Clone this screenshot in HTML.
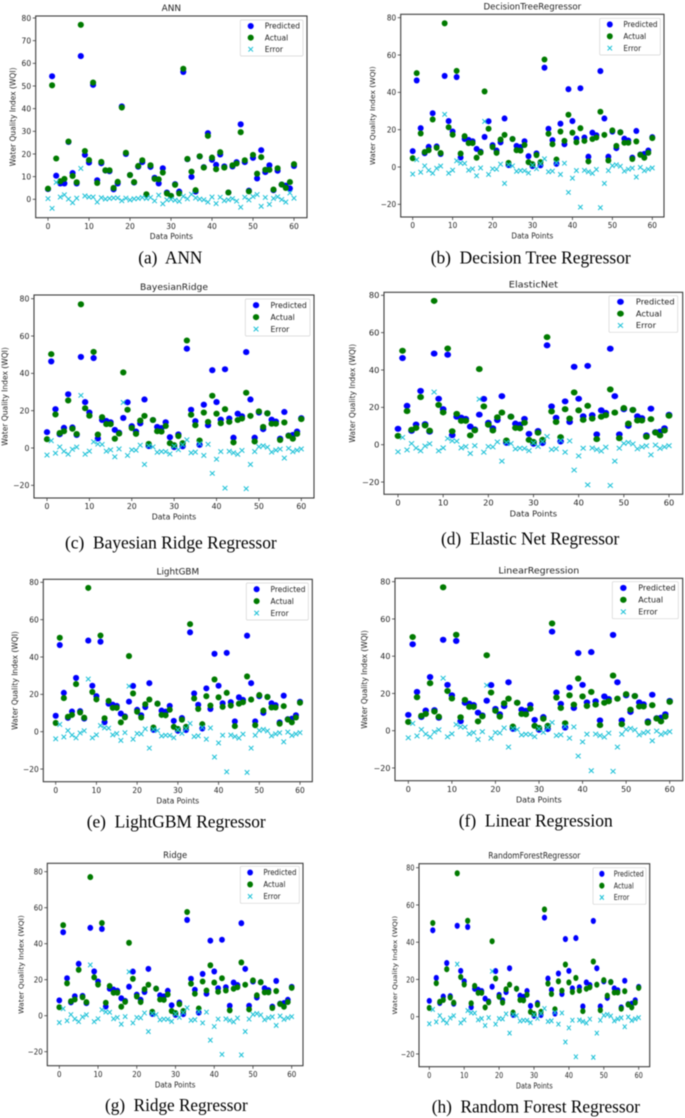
<!DOCTYPE html>
<html lang="en">
<head>
<meta charset="utf-8">
<title>Water Quality Index regressor comparison</title>
<style>
  html, body { margin: 0; padding: 0; background: #fff; }
  body { width: 685px; height: 1118px; overflow: hidden; }
  #figure { display: block; filter: blur(0.5px); }
  text { font-family: "DejaVu Sans", "Liberation Sans", sans-serif; fill: #1f1f1f; }
  .title { font-size: 8.9px; text-anchor: middle; }
  .xlabel, .ylabel { font-size: 7.55px; text-anchor: middle; }
  .legend-label { font-size: 7.5px; }
  .tick-label { font-size: 7.5px; }
  .caption { font-family: "Liberation Serif", serif; font-size: 18.2px; fill: #000; }
</style>
</head>
<body>
<svg id="figure" xmlns="http://www.w3.org/2000/svg" width="685" height="1118" viewBox="0 0 685 1118">
  <rect width="685" height="1118" fill="#fff"/>

  <g class="panel" id="ann">
    <text class="title">ANN</text>
    <text class="xlabel">Data Points</text>
    <text class="ylabel">Water Quality Index (WQI)</text>
    <text class="legend-label">Predicted</text>
    <text class="legend-label">Actual</text>
    <text class="legend-label">Error</text>
    <text class="caption">(a)&#160; ANN</text>
  </g>

  <g class="panel" id="decisionTree">
    <text class="title">DecisionTreeRegressor</text>
    <text class="xlabel">Data Points</text>
    <text class="ylabel">Water Quality Index (WQI)</text>
    <text class="legend-label">Predicted</text>
    <text class="legend-label">Actual</text>
    <text class="legend-label">Error</text>
    <text class="caption">(b)&#160; Decision Tree Regressor</text>
  </g>

  <g class="panel" id="bayesianRidge">
    <text class="title">BayesianRidge</text>
    <text class="xlabel">Data Points</text>
    <text class="ylabel">Water Quality Index (WQI)</text>
    <text class="legend-label">Predicted</text>
    <text class="legend-label">Actual</text>
    <text class="legend-label">Error</text>
    <text class="caption">(c)&#160; Bayesian Ridge Regressor</text>
  </g>

  <g class="panel" id="elasticNet">
    <text class="title">ElasticNet</text>
    <text class="xlabel">Data Points</text>
    <text class="ylabel">Water Quality Index (WQI)</text>
    <text class="legend-label">Predicted</text>
    <text class="legend-label">Actual</text>
    <text class="legend-label">Error</text>
    <text class="caption">(d)&#160; Elastic Net Regressor</text>
  </g>

  <g class="panel" id="lightGbm">
    <text class="title">LightGBM</text>
    <text class="xlabel">Data Points</text>
    <text class="ylabel">Water Quality Index (WQI)</text>
    <text class="legend-label">Predicted</text>
    <text class="legend-label">Actual</text>
    <text class="legend-label">Error</text>
    <text class="caption">(e)&#160; LightGBM Regressor</text>
  </g>

  <g class="panel" id="linearRegression">
    <text class="title">LinearRegression</text>
    <text class="xlabel">Data Points</text>
    <text class="ylabel">Water Quality Index (WQI)</text>
    <text class="legend-label">Predicted</text>
    <text class="legend-label">Actual</text>
    <text class="legend-label">Error</text>
    <text class="caption">(f)&#160; Linear Regression</text>
  </g>

  <g class="panel" id="ridge">
    <text class="title">Ridge</text>
    <text class="xlabel">Data Points</text>
    <text class="ylabel">Water Quality Index (WQI)</text>
    <text class="legend-label">Predicted</text>
    <text class="legend-label">Actual</text>
    <text class="legend-label">Error</text>
    <text class="caption">(g)&#160; Ridge Regressor</text>
  </g>

  <g class="panel" id="randomForest">
    <text class="title">RandomForestRegressor</text>
    <text class="xlabel">Data Points</text>
    <text class="ylabel">Water Quality Index (WQI)</text>
    <text class="legend-label">Predicted</text>
    <text class="legend-label">Actual</text>
    <text class="legend-label">Error</text>
    <text class="caption">(h)&#160; Random Forest Regressor</text>
  </g>
</svg>

<script>
// ---- chart data ----
const xTickValues = [0, 10, 20, 30, 40, 50, 60];
const yTickValuesAnn = [0, 10, 20, 30, 40, 50, 60, 70, 80];
const yTickValuesRegressors = [-20, 0, 20, 40, 60, 80];

const actualValues = [
  4.7, 50.3, 18, 8, 9, 25.5, 10.3, 7.5, 77, 21.3,
  17.3, 51.5, 7.2, 16.5, 12.8, 12.8, 5, 7.7, 40.5, 20.5,
  10.7, 7.6, 14.7, 17.2, 2.2, 15, 9, 8.8, 11.8, 2.6,
  1.5, 6.4, 2.6, 57.6, 17.8, 12.2, 4, 19, 14, 28,
  18.4, 13.3, 20.8, 14, 3, 15, 15.8, 29.6, 17.2, 3.5,
  19.6, 11.3, 18.6, 13, 13, 4.3, 13.7, 6.5, 5, 7.6,
  15.5
];
const predictedAnn = [
  4.5, 54.3, 10.4, 7, 7, 25.3, 11.6, 7, 63.2, 19.6,
  16.2, 50.5, 8.4, 15.9, 12.7, 12.4, 4.4, 7, 41, 20,
  10.7, 7.4, 14.4, 16.4, 2, 14.3, 9.5, 7, 13.7, 3,
  1.5, 6.7, 3.4, 56.2, 17.7, 9.9, 3.4, 18.9, 14.2, 29.2,
  17.4, 15.2, 19.8, 14.5, 3, 14.5, 16.4, 33.1, 16.4, 3.8,
  18.3, 9.2, 21.7, 12, 15, 4, 12.6, 6.5, 6, 4.8,
  14.7
];
const errorAnn = [
  0.3, -4, 7.5, 1, 2, 0.1, -1.5, 0.5, 13.6, 1.5,
  1, 1, -1.2, 0.7, 0.1, 0.4, 0.6, 0.6, -0.6, 0.5,
  -0.3, 0.2, 0.4, 0.8, 0.4, 0.8, -0.7, 1.8, -2, -0.3,
  0, -0.4, -0.9, 1.3, 0.2, 2.2, 0.6, 0.1, -0.2, -1.2,
  1, -1.9, 0.9, -0.6, -0.2, 0.3, -0.8, -3.5, 0.9, -0.3,
  1.2, 2.1, -3.1, 0.8, -2.2, 0.4, 1.1, -0.1, -1.2, 2.8,
  0.5
];
const predictedRegressors = [
  8.5, 46.4, 20.8, 7.4, 10.8, 28.8, 11, 7, 48.8, 24.6,
  19, 48.2, 5.1, 15, 14.5, 13.8, 9.7, 8.2, 16.1, 24.5,
  11.7, 8.8, 13.2, 26, 1, 15, 11.3, 10.7, 13.8, 5.8,
  0.5, 7.3, 0.9, 53.2, 20.5, 14.4, 1.7, 23.2, 12.2, 41.7,
  24.6, 15.2, 42.2, 15.8, 5.5, 18.4, 17, 51.4, 26, 5.5,
  19, 10.1, 18.6, 15.2, 14.2, 5, 19.3, 6.7, 7, 8.8,
  16
];
const errorRegressors = [
  -3.8, 3.9, -2.8, 0.6, -1.8, -3.3, -0.7, 0.5, 28.2, -3.3,
  -1.7, 3.3, 2.1, 1.9, -1.7, -1, -4.7, -0.5, 24.4, -4,
  -1, -1.2, 1.5, -8.8, 1.2, 0.6, -2.3, -1.9, -2, -3.2,
  1, -0.9, 1.7, 4.4, -2.6, -2.2, 2.3, -4, 2, -13.6,
  -6, -1.9, -21.5, -1.8, -2.6, -3.4, -1.3, -21.8, -8.8, -1.9,
  0.7, 1.2, 0.4, -2.2, -1.2, -0.6, -5.4, -0.2, -2, -1.2,
  -0.5
];

// ---- panel layout (pixel anchors of each subplot in the figure) ----
const layouts = {
  ann:              {L: 35.7,  R: 307,   T: 16,    B: 217.7,  x0: 48,    x60: 294,   y0: 199.3,  y80: 18,
                     lx: 240.3, lr: 303,   ly: 20,    lb: 56,     yl: 12.7,  ty: 10.8,  xy: 239,    cx: 138.3, cr: 202.3, cy: 263.3},
  decisionTree:     {L: 400.7, R: 664,   T: 14.3,  B: 217,    x0: 412.7, x60: 652.3, y0: 167,    y80: 17.7,
                     lx: 599.7, lr: 660.3, ly: 18.3,  lb: 55,     yl: 372.3, ty: 9.3,   xy: 238.7,  cx: 430.7, cr: 630.7, cy: 263.3},
  bayesianRidge:    {L: 34,    R: 314,   T: 295,   B: 498,    x0: 47,    x60: 301.3, y0: 448,    y80: 298.7,
                     lx: 245.3, lr: 310,   ly: 299,   lb: 336,    yl: 4.6,   ty: 290,   xy: 519.7,  cx: 65,    cr: 276.7, cy: 548.3},
  elasticNet:       {L: 384,   R: 682.7, T: 292.3, B: 494.3,  x0: 398,   x60: 669,   y0: 444.7,  y80: 295.3,
                     lx: 609,   lr: 677.7, ly: 295.7, lb: 332.3,  yl: 352.3, ty: 287.3, xy: 516.3,  cx: 441,   cr: 619.3, cy: 544.3},
  lightGbm:         {L: 43.3,  R: 312.3, T: 579.3, B: 781.7,  x0: 55.7,  x60: 300,   y0: 731.7,  y80: 582.3,
                     lx: 246.3, lr: 308.3, ly: 583,   lb: 620,    yl: 15,    ty: 574.3, xy: 803.3,  cx: 86.7,  cr: 265.7, cy: 827.3},
  linearRegression: {L: 395,   R: 682.7, T: 578.3, B: 780.7,  x0: 408.3, x60: 669.7, y0: 730.7,  y80: 581.7,
                     lx: 612.3, lr: 678.3, ly: 581.7, lb: 618.7,  yl: 364.3, ty: 573.3, xy: 802.7,  cx: 458.7, cr: 612.7, cy: 826.7},
  ridge:            {L: 47.3,  R: 303,   T: 863.3, B: 1065.7, x0: 59.3,  x60: 291.7, y0: 1015.7, y80: 871.7,
                     lx: 240.3, lr: 299.3, ly: 866.3, lb: 903.3,  yl: 20.7,  ty: 858,   xy: 1087.3, cx: 105,   cr: 247.7, cy: 1111},
  randomForest:     {L: 419,   R: 649.7, T: 863.7, B: 1066.7, x0: 429.3, x60: 638.7, y0: 1016.7, y80: 867.7,
                     lx: 593,   lr: 646,   ly: 867.7, lb: 904.3,  yl: 394.3, ty: 858.7, xy: 1088.3, cx: 431.7, cr: 640,   cy: 1112.7}
};

const panelSeries = {
  ann:              {predicted: predictedAnn,        actual: actualValues, error: errorAnn,        yTicks: yTickValuesAnn},
  decisionTree:     {predicted: predictedRegressors, actual: actualValues, error: errorRegressors, yTicks: yTickValuesRegressors},
  bayesianRidge:    {predicted: predictedRegressors, actual: actualValues, error: errorRegressors, yTicks: yTickValuesRegressors},
  elasticNet:       {predicted: predictedRegressors, actual: actualValues, error: errorRegressors, yTicks: yTickValuesRegressors},
  lightGbm:         {predicted: predictedRegressors, actual: actualValues, error: errorRegressors, yTicks: yTickValuesRegressors},
  linearRegression: {predicted: predictedRegressors, actual: actualValues, error: errorRegressors, yTicks: yTickValuesRegressors},
  ridge:            {predicted: predictedRegressors, actual: actualValues, error: errorRegressors, yTicks: yTickValuesRegressors},
  randomForest:     {predicted: predictedRegressors, actual: actualValues, error: errorRegressors, yTicks: yTickValuesRegressors}
};

const SVG_NS = 'http://www.w3.org/2000/svg';
const BLUE = '#0000ff';
const GREEN = '#007a00';
const CYAN = '#1fc2d8';
const AXIS = '#3c3c3c';

function svgEl(tag, attrs, parent) {
  const el = document.createElementNS(SVG_NS, tag);
  for (const k in attrs) el.setAttribute(k, attrs[k]);
  parent.appendChild(el);
  return el;
}

function drawDot(parent, cx, cy, sx, color, name) {
  const el = svgEl('ellipse', {cx: cx, cy: cy, rx: 3.05 * sx, ry: 3.05, fill: color}, parent);
  
  
  return el;
}

function drawCross(parent, cx, cy, sx, color, name) {
  const hx = 2.3 * sx, hy = 2.3;
  const d = 'M' + (cx - hx) + ' ' + (cy - hy) + 'L' + (cx + hx) + ' ' + (cy + hy) +
            'M' + (cx - hx) + ' ' + (cy + hy) + 'L' + (cx + hx) + ' ' + (cy - hy);
  const el = svgEl('path', {d: d, stroke: color, 'stroke-width': 1.05, fill: 'none'}, parent);
  
  
  return el;
}

function drawPanel(id) {
  const g = document.getElementById(id);
  const p = layouts[id];
  const s = panelSeries[id];
  const sx = (p.R - p.L) / 271;
  const xScale = v => p.x0 + (p.x60 - p.x0) * v / 60;
  const yScale = v => p.y0 + (p.y80 - p.y0) * v / 80;
  const midX = (p.L + p.R) / 2;
  const midY = (p.T + p.B) / 2;

  // inline text placement
  g.querySelector('.title').setAttribute('transform', 'translate(' + midX + ',' + p.ty + ') scale(' + sx + ',1)');
  g.querySelector('.xlabel').setAttribute('transform', 'translate(' + midX + ',' + p.xy + ') scale(' + sx + ',1)');
  g.querySelector('.ylabel').setAttribute('transform', 'translate(' + (p.yl + 2.7) + ',' + midY + ') rotate(-90) scale(1,' + sx + ')');
  const cap = g.querySelector('.caption');
  cap.setAttribute('x', p.cx);
  cap.setAttribute('y', p.cy);
  cap.setAttribute('textLength', p.cr - p.cx);
  cap.setAttribute('lengthAdjust', 'spacingAndGlyphs');

  // plot area
  const layer = svgEl('g', {}, g);
  
  

  const bg = svgEl('rect', {x: p.L, y: p.T, width: p.R - p.L, height: p.B - p.T, fill: '#fff'}, layer);
  
  

  // series: predicted, actual, error — same draw order as the source figure
  const predictedGroup = svgEl('g', {}, layer);
  
  
  s.predicted.forEach((v, i) => drawDot(predictedGroup, xScale(i), yScale(v), sx, BLUE, 'predicted-point'));

  const actualGroup = svgEl('g', {}, layer);
  
  
  s.actual.forEach((v, i) => drawDot(actualGroup, xScale(i), yScale(v), sx, GREEN, 'actual-point'));

  const errorGroup = svgEl('g', {}, layer);
  
  
  s.error.forEach((v, i) => drawCross(errorGroup, xScale(i), yScale(v), sx, CYAN, 'error-point'));

  // frame
  const frame = svgEl('rect', {x: p.L, y: p.T, width: p.R - p.L, height: p.B - p.T, fill: 'none', stroke: AXIS, 'stroke-width': 1.1}, layer);
  
  

  // x ticks
  xTickValues.forEach(v => {
    const x = xScale(v);
    const mark = svgEl('line', {x1: x, x2: x, y1: p.B, y2: p.B + 3, stroke: AXIS, 'stroke-width': 0.8}, layer);
    
    
    const label = svgEl('text', {'class': 'tick-label', 'text-anchor': 'middle',
      transform: 'translate(' + x + ',' + (p.B + 11.2) + ') scale(' + sx + ',1)'}, layer);
    label.textContent = String(v);
    
    
  });

  // y ticks
  s.yTicks.forEach(v => {
    const y = yScale(v);
    const mark = svgEl('line', {x1: p.L - 3, x2: p.L, y1: y, y2: y, stroke: AXIS, 'stroke-width': 0.8}, layer);
    
    
    const label = svgEl('text', {'class': 'tick-label', 'text-anchor': 'end',
      transform: 'translate(' + (p.L - 4.6) + ',' + (y + 2.8) + ') scale(' + sx + ',1)'}, layer);
    label.textContent = String(v).replace('-', '\u2212');
    
    
  });

  // legend
  const legend = svgEl('g', {}, g);
  
  
  const box = svgEl('rect', {x: p.lx, y: p.ly, width: p.lr - p.lx, height: p.lb - p.ly, rx: 1.2, fill: '#fff', 'fill-opacity': 0.85, stroke: '#d4d4d4', 'stroke-width': 0.7}, legend);
  
  
  const rowStep = (p.lb - p.ly) / 3.1;
  const rowY = i => p.ly + rowStep * 0.52 + rowStep * i;
  const markerX = p.lx + 10.4 * sx;
  const textX = p.lx + 24.4 * sx;
  drawDot(legend, markerX, rowY(0), sx, BLUE, 'legend-predicted-marker');
  drawDot(legend, markerX, rowY(1), sx, GREEN, 'legend-actual-marker');
  drawCross(legend, markerX, rowY(2), sx, CYAN, 'legend-error-marker');
  g.querySelectorAll('.legend-label').forEach((t, i) => {
    t.setAttribute('transform', 'translate(' + textX + ',' + (rowY(i) + 2.7) + ') scale(' + sx + ',1)');
    legend.appendChild(t);
  });

  // keep labels above the plot layer
  g.appendChild(g.querySelector('.caption'));
}

Object.keys(layouts).forEach(drawPanel);
</script>
</body>
</html>
